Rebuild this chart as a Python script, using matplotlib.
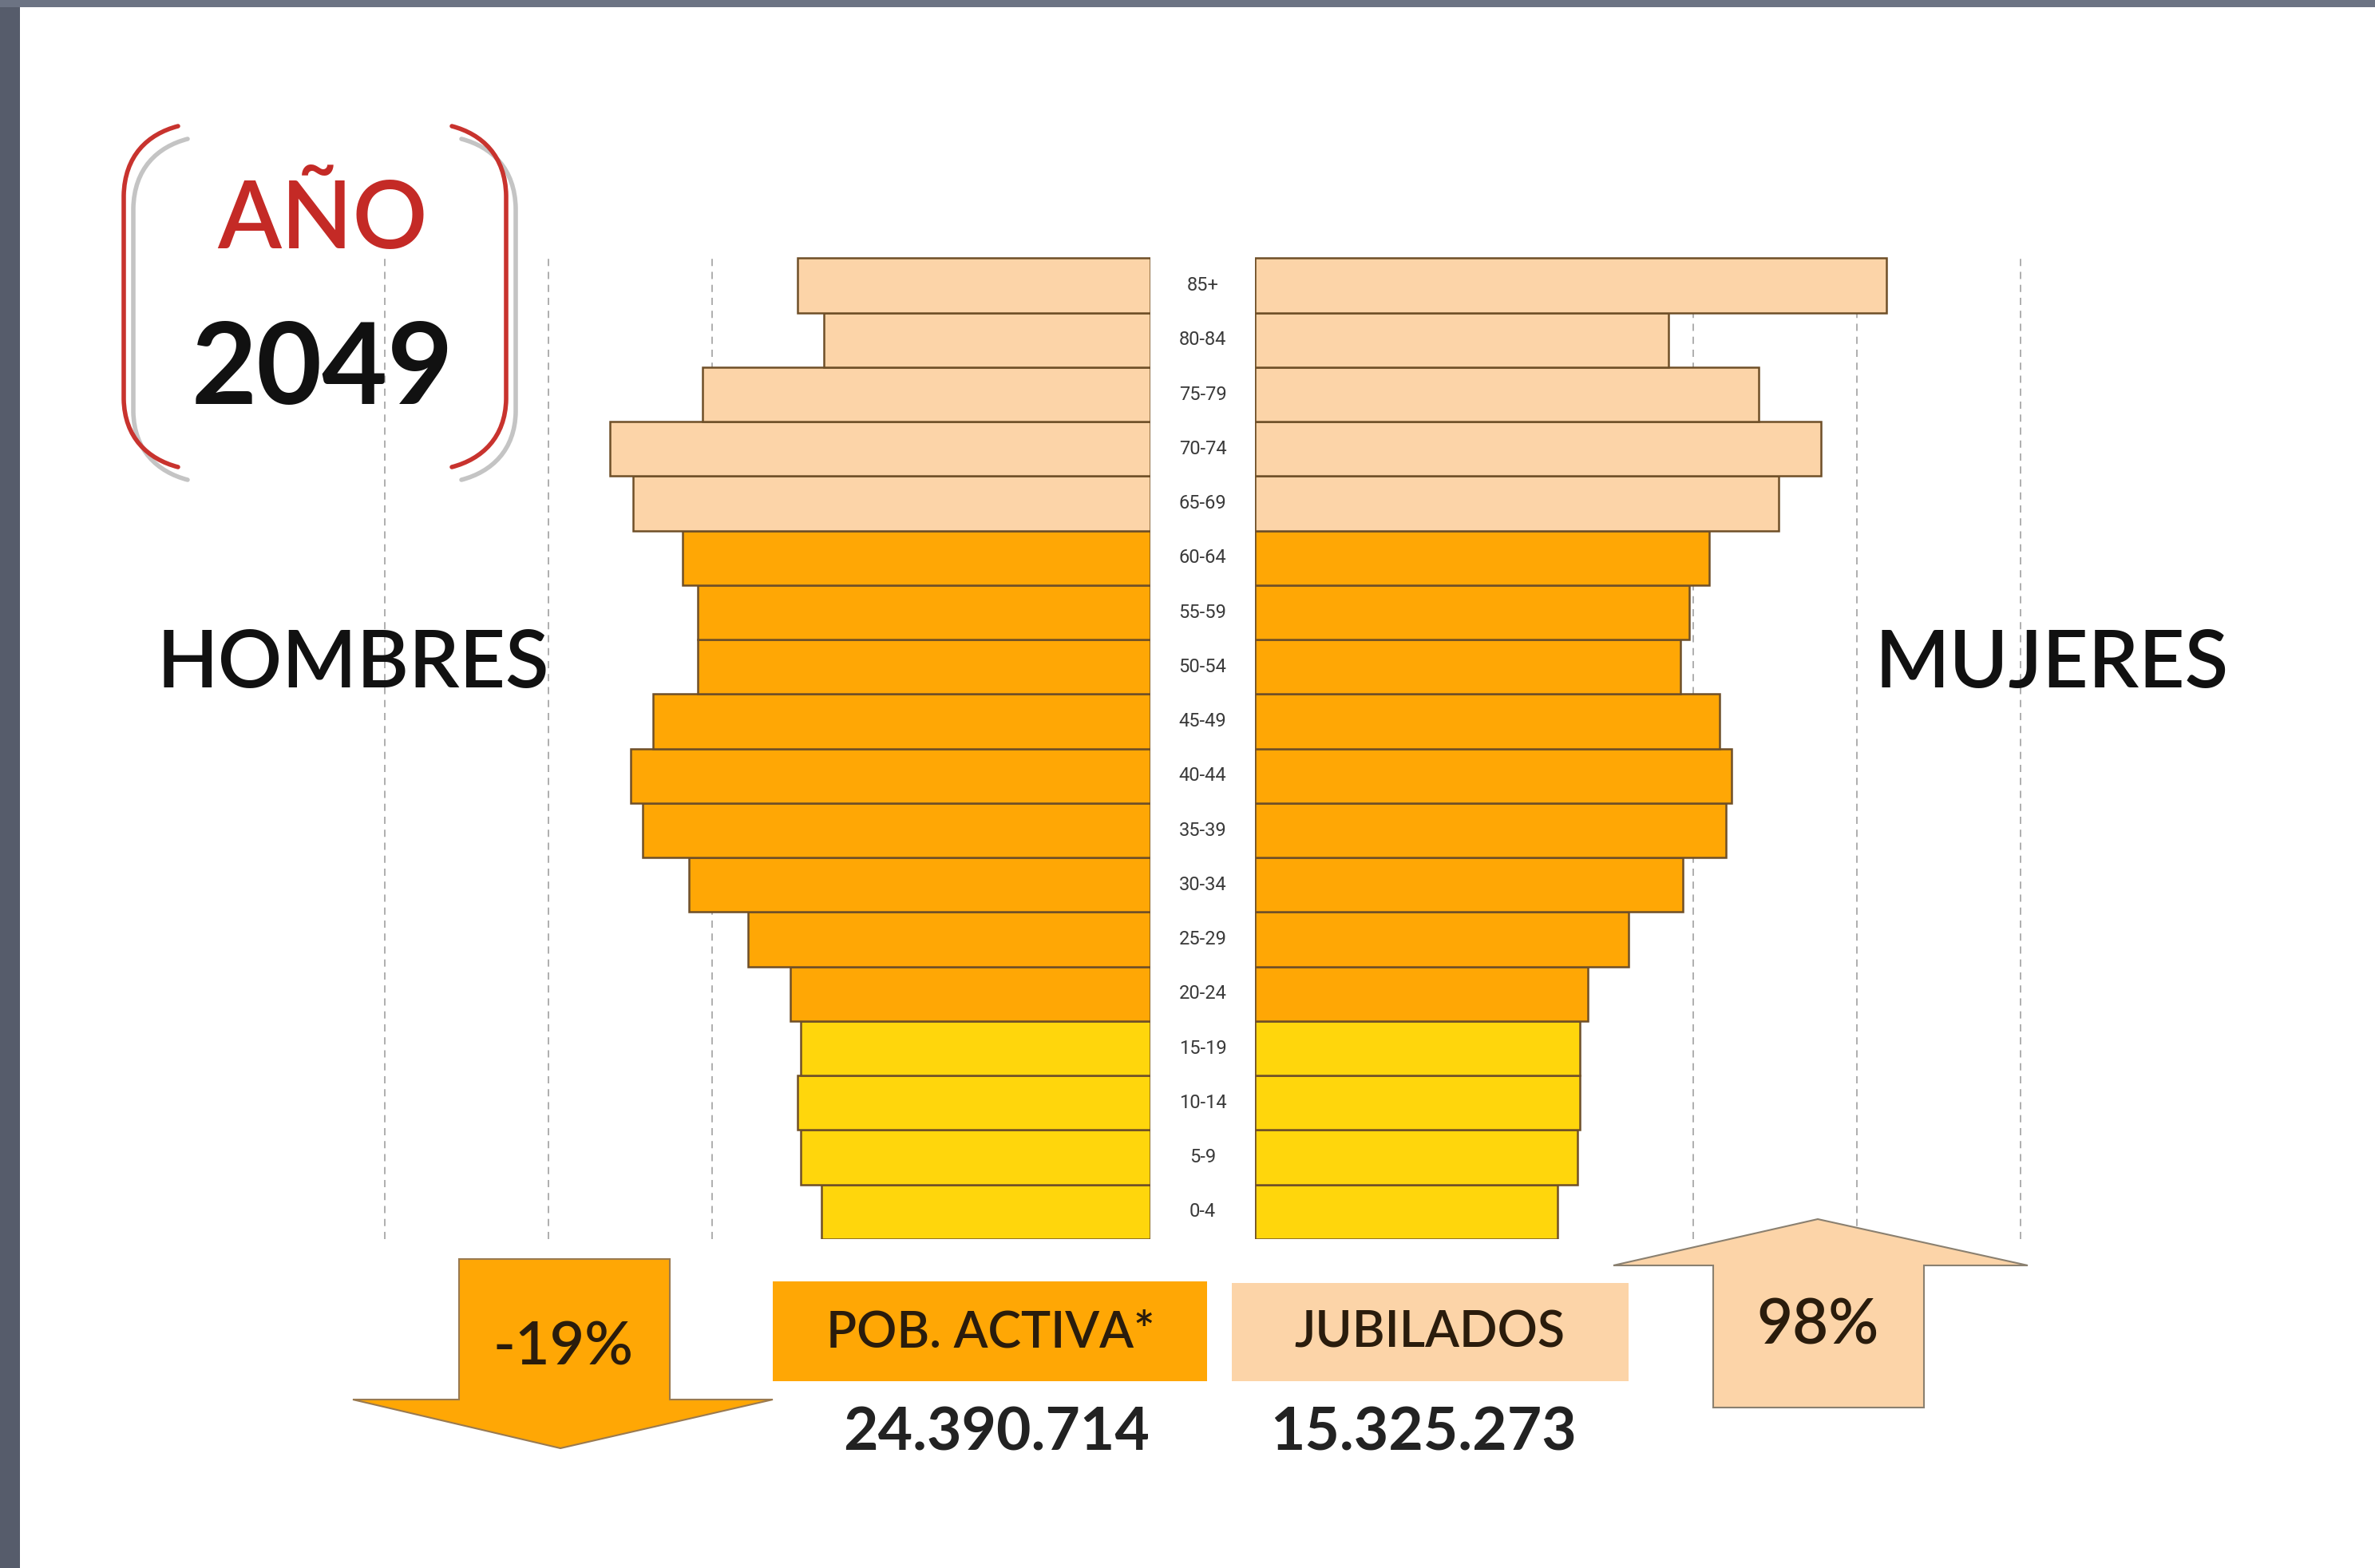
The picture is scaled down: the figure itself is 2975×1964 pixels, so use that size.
import matplotlib
matplotlib.use("Agg")
import matplotlib.pyplot as plt
import matplotlib.transforms as mtransforms
from matplotlib.patches import Polygon, Rectangle, PathPatch
from matplotlib.path import Path

# datos de la piramide (miles de personas), de abajo hacia arriba
edades = ['0-4', '5-9', '10-14', '15-19', '20-24', '25-29', '30-34', '35-39', '40-44',
          '45-49', '50-54', '55-59', '60-64', '65-69', '70-74', '75-79', '80-84', '85+']
hombres = [1006, 1068, 1079, 1068, 1101, 1230, 1410, 1553, 1588,
           1520, 1383, 1383, 1429, 1581, 1653, 1370, 997, 1078]
mujeres = [926, 986, 995, 995, 1019, 1144, 1310, 1440, 1458,
           1421, 1301, 1329, 1389, 1602, 1732, 1542, 1264, 1931]
grupo = ['joven'] * 4 + ['activa'] * 9 + ['jubilado'] * 5
rejilla = [1340, 1840, 2340]

pob_activa = "24.390.714"
jubilados = "15.325.273"
var_activa = "-19%"
var_jubilados = "98%"

colores = {'joven': '#FFD60C', 'activa': '#FFA705', 'jubilado': '#FCD4A8'}
borde = '#6e4f28'

W, H = 2975, 1964
plt.rcParams['font.family'] = ['Lato', 'DejaVu Sans']
fig = plt.figure(figsize=(W / 100, H / 100), dpi=100)
fig.patch.set_facecolor('white')


def px(x, y):
    # pixeles (y hacia abajo) -> fraccion de figura
    return (x / W, 1 - y / H)


# fondo de la diapositiva (bordes grises)
fig.patches.append(Rectangle((0, 0), 25 / W, 1, transform=fig.transFigure,
                             facecolor='#565c6b', edgecolor='none', zorder=0))
fig.patches.append(Rectangle((0, 1 - 9 / H), 1, 9 / H, transform=fig.transFigure,
                             facecolor='#6c7383', edgecolor='none', zorder=0))

# ejes de la piramide
y0 = 1 - 1552 / H
alto = (1552 - 320) / H
ax_h = fig.add_axes([0, y0, 1441 / W, alto])
ax_m = fig.add_axes([1571.5 / W, y0, (W - 1571.5) / W, alto])
px_k = 2.44  # miles por pixel

y = list(range(len(edades)))
cols = [colores[g] for g in grupo]
ax_h.barh(y, hombres, height=1.0, color=cols, edgecolor=borde, linewidth=1.8, zorder=3)
ax_m.barh(y, mujeres, height=1.0, color=cols, edgecolor=borde, linewidth=1.8, zorder=3)

ax_h.set_xlim(1441 * px_k, 0)
ax_m.set_xlim(0, (W - 1571.5) * px_k)
for ax in (ax_h, ax_m):
    ax.set_ylim(-0.5, 17.55)
    ax.set_facecolor('none')
    for s in ax.spines.values():
        s.set_visible(False)
    ax.set_xticks([])
    ax.set_yticks([])
    for g in rejilla:
        ax.axvline(g, color='#a8a8a8', lw=1.3, ls=(0, (5, 4)), zorder=0)

# etiquetas de edad en el centro
tr = mtransforms.blended_transform_factory(fig.transFigure, ax_m.transData)
for i, e in enumerate(edades):
    fig.text(1506.5 / W, i, e, transform=tr, ha='center', va='center',
             fontsize=17, color='#3a3a3a', family=['Roboto', 'DejaVu Sans'])

# titulo AÑO 2049 entre corchetes
fig.text(*px(404, 278), "AÑO", ha='center', va='center', fontsize=84,
         fontweight='semibold', color='#C42A26')
fig.text(*px(404, 466), "2049", ha='center', va='center', fontsize=102,
         fontweight='bold', color='#111111')


def corchete(espejo, dx, dy, color, lw):
    pts = [(223, 158), (185, 168), (156, 195), (155, 245), (155, 500),
           (156, 548), (185, 575), (223, 585)]
    if espejo:
        pts = [(789 - x, yy) for x, yy in pts]
    pts = [px(x + dx, yy + dy) for x, yy in pts]
    codes = [Path.MOVETO, Path.CURVE4, Path.CURVE4, Path.CURVE4, Path.LINETO,
             Path.CURVE4, Path.CURVE4, Path.CURVE4]
    fig.patches.append(PathPatch(Path(pts, codes), transform=fig.transFigure,
                                 facecolor='none', edgecolor=color, lw=lw,
                                 capstyle='round'))


for esp in (False, True):
    corchete(esp, 12, 16, '#c4c4c4', 4)
    corchete(esp, 0, 0, '#C8332E', 4)

fig.text(*px(442, 832), "HOMBRES", ha='center', va='center', fontsize=72,
         fontweight='semibold', color='#111111')
fig.text(*px(2570, 832), "MUJERES", ha='center', va='center', fontsize=72,
         fontweight='semibold', color='#111111')

# flechas de variacion
abajo = [(575, 1577), (839, 1577), (839, 1753), (968, 1753), (702, 1814),
         (442, 1753), (575, 1753)]
arriba = [(2146, 1763), (2146, 1585), (2021, 1585), (2277, 1527), (2540, 1585),
          (2410, 1585), (2410, 1763)]
fig.patches.append(Polygon([px(*p) for p in abajo], closed=True, transform=fig.transFigure,
                           facecolor=colores['activa'], edgecolor='#9a7a50', lw=1.5))
fig.patches.append(Polygon([px(*p) for p in arriba], closed=True, transform=fig.transFigure,
                           facecolor=colores['jubilado'], edgecolor='#8a8070', lw=1.5))
fig.text(*px(706, 1688), var_activa, ha='center', va='center', fontsize=54,
         fontweight='semibold', color='#2a1c0c')
fig.text(*px(2277, 1662), var_jubilados, ha='center', va='center', fontsize=56,
         fontweight='semibold', color='#2a1c0c')

# cajas de leyenda
fig.patches.append(Rectangle(px(968, 1730), 544 / W, 125 / H, transform=fig.transFigure,
                             facecolor=colores['activa'], edgecolor='none'))
fig.patches.append(Rectangle(px(1543, 1730), 497 / W, 123 / H, transform=fig.transFigure,
                             facecolor=colores['jubilado'], edgecolor='none'))
fig.text(*px(1241, 1670), "POB. ACTIVA*", ha='center', va='center', fontsize=45,
         fontweight='semibold', color='#2a1c0c')
fig.text(*px(1791, 1670), "JUBILADOS", ha='center', va='center', fontsize=45,
         fontweight='semibold', color='#2a1c0c')
fig.text(*px(1248, 1795), pob_activa, ha='center', va='center', fontsize=54,
         fontweight='bold', color='#222222')
fig.text(*px(1783, 1795), jubilados, ha='center', va='center', fontsize=54,
         fontweight='bold', color='#222222')

fig.savefig("out.png", dpi=100, facecolor=fig.get_facecolor())
